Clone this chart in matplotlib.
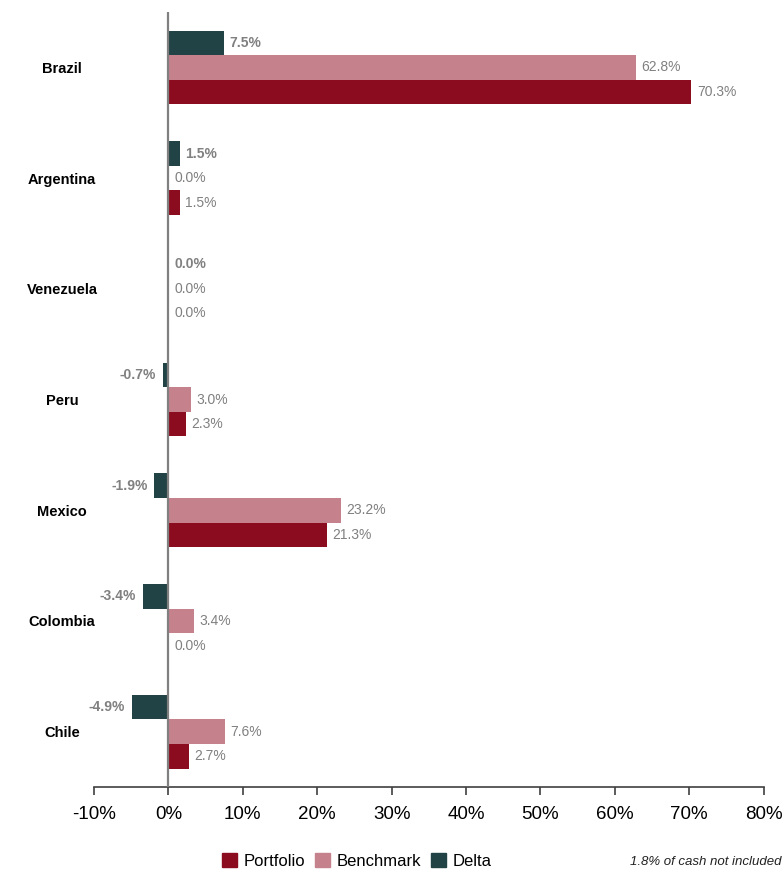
import numpy as np
import matplotlib.pyplot as plt
import matplotlib.patches as patches

countries = ["Brazil", "Argentina", "Venezuela", "Peru", "Mexico", "Colombia", "Chile"]
portfolio = [70.3, 1.5, 0.0, 2.3, 21.3, 0.0, 2.7]
benchmark = [62.8, 0.0, 0.0, 3.0, 23.2, 3.4, 7.6]
delta = [7.5, 1.5, 0.0, -0.7, -1.9, -3.4, -4.9]

xticks = np.arange(-10, 81, 10)
colors = {"Portfolio": "#8b0c1f", "Benchmark": "#c5828d", "Delta": "#224345"}

plt.rcParams['font.family'] = ['Liberation Sans', 'DejaVu Sans']

fig = plt.figure(figsize=(7.84, 8.71), dpi=100)
ax = fig.add_axes([0.12, 0.0964, 0.854, 0.8898])

y = np.arange(len(countries))
h = 0.222
series = [("Delta", delta, -h), ("Benchmark", benchmark, 0), ("Portfolio", portfolio, h)]

for name, vals, off in series:
    ax.barh(y + off, vals, height=h, color=colors[name], zorder=2)
    for yi, v in zip(y, vals):
        bold = name == "Delta"
        if v < 0:
            ax.annotate(f"{v:.1f}%", (v, yi + off), xytext=(-5, 0), textcoords="offset points",
                        ha="right", va="center", fontsize=10, color="#808080",
                        fontweight="bold" if bold else "normal")
        else:
            ax.annotate(f"{v:.1f}%", (v, yi + off), xytext=(4, 0), textcoords="offset points",
                        ha="left", va="center", fontsize=10, color="#808080",
                        fontweight="bold" if bold else "normal")

ax.axvline(0, color="#808080", lw=1.6, zorder=3)

ax.set_xlim(-10, 80)
ax.set_ylim(len(countries) - 0.5, -0.5)
ax.set_xticks(xticks)
ax.set_xticklabels([f"{t}%" for t in xticks], fontsize=13.5)
ax.set_yticks(y)
ax.set_yticklabels(countries, fontsize=10.5, fontweight="bold")
ax.tick_params(axis="y", length=0, pad=23)
for lbl in ax.get_yticklabels():
    lbl.set_horizontalalignment("center")
ax.tick_params(axis="x", direction="out", length=6, width=1.2, color="#404040", pad=8)

for s in ["top", "right", "left"]:
    ax.spines[s].set_visible(False)
ax.spines["bottom"].set_color("#404040")
ax.spines["bottom"].set_linewidth(1.2)

handles = [patches.Patch(color=colors[n], label=n) for n in ["Portfolio", "Benchmark", "Delta"]]
fig.legend(handles=handles, loc="center", bbox_to_anchor=(0.455, 0.0115), ncol=3, frameon=False,
           fontsize=12, handlelength=0.9, handleheight=0.9, handletextpad=0.4, columnspacing=0.6)

fig.text(0.997, 0.003, "1.8% of cash not included", ha="right", va="bottom",
         fontsize=9.5, style="italic", color="#222222")

fig.savefig("out.png", dpi=100)
